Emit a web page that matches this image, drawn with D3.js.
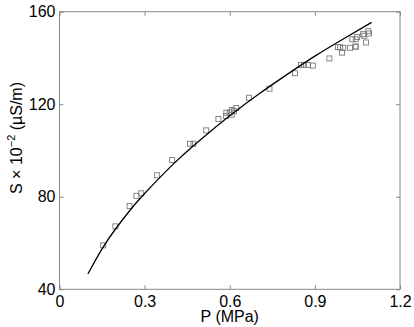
<!DOCTYPE html>
<html><head><meta charset="utf-8">
<script src="https://cdn.jsdelivr.net/npm/d3@7"></script>
<style>body{margin:0;background:#fff}svg{display:block}text{font-family:"Liberation Sans",Arial,sans-serif}</style>
</head><body><svg id="c" width="414" height="327"></svg>
<script>
const pressure = [0.154,0.197,0.247,0.271,0.288,0.344,0.397,0.460,0.472,0.517,0.560,0.588,0.587,0.600,0.607,0.608,0.615,0.623,0.668,0.740,0.830,0.851,0.862,0.875,0.893,0.951,0.981,0.989,1.000,0.996,1.024,1.044,1.032,1.044,1.049,1.070,1.074,1.088,1.091,1.080,1.043];
const conductivity = [59.0,67.2,76.0,80.4,81.5,89.3,95.9,102.9,102.9,108.7,113.6,116.3,114.9,116.5,115.5,117.5,117.0,118.4,122.8,126.7,133.4,137.0,137.0,137.0,136.7,139.8,144.7,144.6,144.4,142.3,144.4,144.9,148.1,148.1,149.1,150.3,149.6,151.6,150.6,146.7,144.9];
const fitP = [0.10,0.15,0.20,0.25,0.30,0.40,0.50,0.60,0.70,0.80,0.90,1.00,1.10];
const fitS = [46.6,57.5,66.5,74.4,81.4,94.0,105.0,115.0,124.2,132.7,140.8,148.2,155.4];
const xTicks = [0,0.3,0.6,0.9,1.2];
const yTicks = [40,80,120,160];

const svg = d3.select("#c");
const L=59.5,R=400,T=11.7,B=289.3;
const x = d3.scaleLinear().domain([0,1.2]).range([L,R]);
const y = d3.scaleLinear().domain([40,160]).range([B,T]);
const axisColor="#888";
const FS=16;

svg.append("rect").attr("x",L).attr("y",T).attr("width",R-L).attr("height",B-T)
  .attr("fill","none").attr("stroke",axisColor).attr("stroke-width",1);

const fmt = d => d===0?"0":d3.format(".1f")(d);
const gb = svg.append("g").attr("transform",`translate(0,${B})`)
  .call(d3.axisBottom(x).tickValues(xTicks).tickFormat(fmt).tickSizeInner(-4).tickSizeOuter(0).tickPadding(6));
const gt = svg.append("g").attr("transform",`translate(0,${T})`)
  .call(d3.axisTop(x).tickValues(xTicks).tickFormat("").tickSizeInner(-4).tickSizeOuter(0));
const gl = svg.append("g").attr("transform",`translate(${L},0)`)
  .call(d3.axisLeft(y).tickValues(yTicks).tickFormat(d3.format("d")).tickSizeInner(-4).tickSizeOuter(0).tickPadding(4));
const gr = svg.append("g").attr("transform",`translate(${R},0)`)
  .call(d3.axisRight(y).tickValues(yTicks).tickFormat("").tickSizeInner(-4).tickSizeOuter(0));
[gb,gt,gl,gr].forEach(g=>{
  g.select(".domain").remove();
  g.selectAll(".tick line").attr("stroke",axisColor);
  g.selectAll("text").attr("fill","#000").attr("font-size",FS).attr("font-family","Liberation Sans, Arial, sans-serif");
});

svg.append("g").selectAll("rect").data(pressure).join("rect")
  .attr("x",d=>x(d)-2.5).attr("y",(d,i)=>y(conductivity[i])-2.5)
  .attr("width",5).attr("height",5).attr("fill","none").attr("stroke","#7a7a7a").attr("stroke-width",0.9);

const line = d3.line().x((d,i)=>x(fitP[i])).y(d=>y(d)).curve(d3.curveNatural);
svg.append("path").attr("d",line(fitS)).attr("fill","none").attr("stroke","#000").attr("stroke-width",1.3);

svg.append("text").attr("x",(L+R)/2).attr("y",322).attr("text-anchor","middle").attr("font-size",FS).text("P (MPa)");
const yl = svg.append("text").attr("transform",`translate(22,138) rotate(-90)`).attr("text-anchor","middle").attr("font-size",FS);
yl.append("tspan").text("S \u00d7 10");
yl.append("tspan").attr("dy",-7).attr("font-size",11).text("\u22122");
yl.append("tspan").attr("dy",7).text(" (\u00b5S/m)");
</script></body></html>
